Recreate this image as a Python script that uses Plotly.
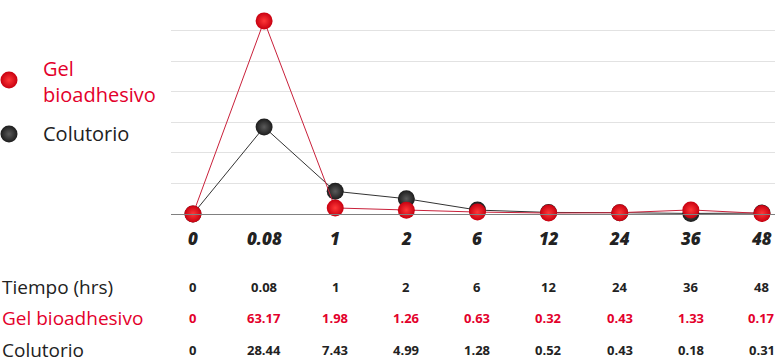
import plotly.graph_objects as go

# ---- data ----
categories = ["0", "0.08", "1", "2", "6", "12", "24", "36", "48"]
tiempo_hrs = [0, 0.08, 1, 2, 6, 12, 24, 36, 48]
gel_bioadhesivo = [0, 63.17, 1.98, 1.26, 0.63, 0.32, 0.43, 1.33, 0.17]
colutorio = [0, 28.44, 7.43, 4.99, 1.28, 0.52, 0.43, 0.18, 0.31]
series_names = ["Gel bioadhesivo", "Colutorio"]
row_label = "Tiempo (hrs)"

W, H = 775, 363
RED = "#e3002b"
RED_LINE = "#c9203a"
DARK = "#222222"
FONT = "Open Sans"

def px(x):
    return x / W

def py(y):
    return 1 - y / H

idx = list(range(len(categories)))

fig = go.Figure()

def sphere(color_edge, color_center):
    return dict(size=17, color=color_edge,
                gradient=dict(type="radial", color=color_center),
                line=dict(width=0))

red_marker = sphere("#c80010", "#ff3838")
blk_marker = sphere("#1c1c1c", "#5a5a5a")

fig.add_trace(go.Scatter(x=idx, y=colutorio, mode="lines+markers",
                         line=dict(color="#333333", width=1),
                         marker=blk_marker, cliponaxis=False,
                         showlegend=False, name=series_names[1]))
fig.add_trace(go.Scatter(x=idx, y=gel_bioadhesivo, mode="lines+markers",
                         line=dict(color=RED_LINE, width=1),
                         marker=red_marker, cliponaxis=False,
                         showlegend=False, name=series_names[0]))

# legend markers on a full-page pixel axis
fig.add_trace(go.Scatter(x=[9], y=[80], mode="markers", marker=red_marker,
                         xaxis="x2", yaxis="y2", showlegend=False, cliponaxis=False))
fig.add_trace(go.Scatter(x=[9], y=[134], mode="markers", marker=blk_marker,
                         xaxis="x2", yaxis="y2", showlegend=False, cliponaxis=False))

ann = []
# legend texts
ann.append(dict(x=px(41), y=py(81), xref="paper", yref="paper",
                text="Gel<br>bioadhesivo", showarrow=False, xanchor="left",
                yanchor="middle", align="left",
                font=dict(family=FONT, size=20, color=RED, weight=500)))
ann.append(dict(x=px(41), y=py(134), xref="paper", yref="paper",
                text="Colutorio", showarrow=False, xanchor="left",
                yanchor="middle", align="left",
                font=dict(family=FONT, size=20, color=DARK, weight=500)))

# category labels (bold italic)
for i, c in enumerate(categories):
    ann.append(dict(x=i, y=py(238), xref="x", yref="paper", text=c,
                    showarrow=False, xanchor="center", yanchor="middle",
                    font=dict(family=FONT, size=17, color=DARK,
                              weight=800, style="italic")))

# table rows
rows = [
    (row_label, tiempo_hrs, DARK, 287),
    (series_names[0], gel_bioadhesivo, RED, 318),
    (series_names[1], colutorio, DARK, 350),
]
for label, vals, col, ypix in rows:
    ann.append(dict(x=px(0), y=py(ypix), xref="paper", yref="paper", text=label,
                    showarrow=False, xanchor="left", yanchor="middle",
                    font=dict(family=FONT, size=19, color=col, weight=500)))
    for i, v in enumerate(vals):
        ann.append(dict(x=i, y=py(ypix), xref="x", yref="paper", text=f"{v:g}",
                        showarrow=False, xanchor="center", yanchor="middle",
                        font=dict(family=FONT, size=13, color=col, weight="bold")))

fig.update_layout(
    width=W, height=H,
    margin=dict(l=0, r=0, t=0, b=0),
    paper_bgcolor="white", plot_bgcolor="rgba(0,0,0,0)",
    showlegend=False,
    xaxis=dict(domain=[171 / W, 1], range=[-0.309, 8.183], showgrid=False,
               showticklabels=False, zeroline=False, showline=True,
               linecolor="#808080", linewidth=1, ticks="", anchor="y"),
    yaxis=dict(domain=[149 / H, 1], range=[0, 70], dtick=10, showgrid=True,
               gridcolor="#e2e2e2", gridwidth=1, zeroline=False,
               showticklabels=False, ticks="", anchor="x"),
    xaxis2=dict(domain=[0, 1], range=[0, W], visible=False, anchor="y2"),
    yaxis2=dict(domain=[0, 1], range=[H, 0], visible=False, anchor="x2"),
    annotations=ann,
)

fig.write_html("out.html",
               config={"displayModeBar": False},
               post_script="document.body.style.margin='0';document.body.style.overflow='hidden';")
